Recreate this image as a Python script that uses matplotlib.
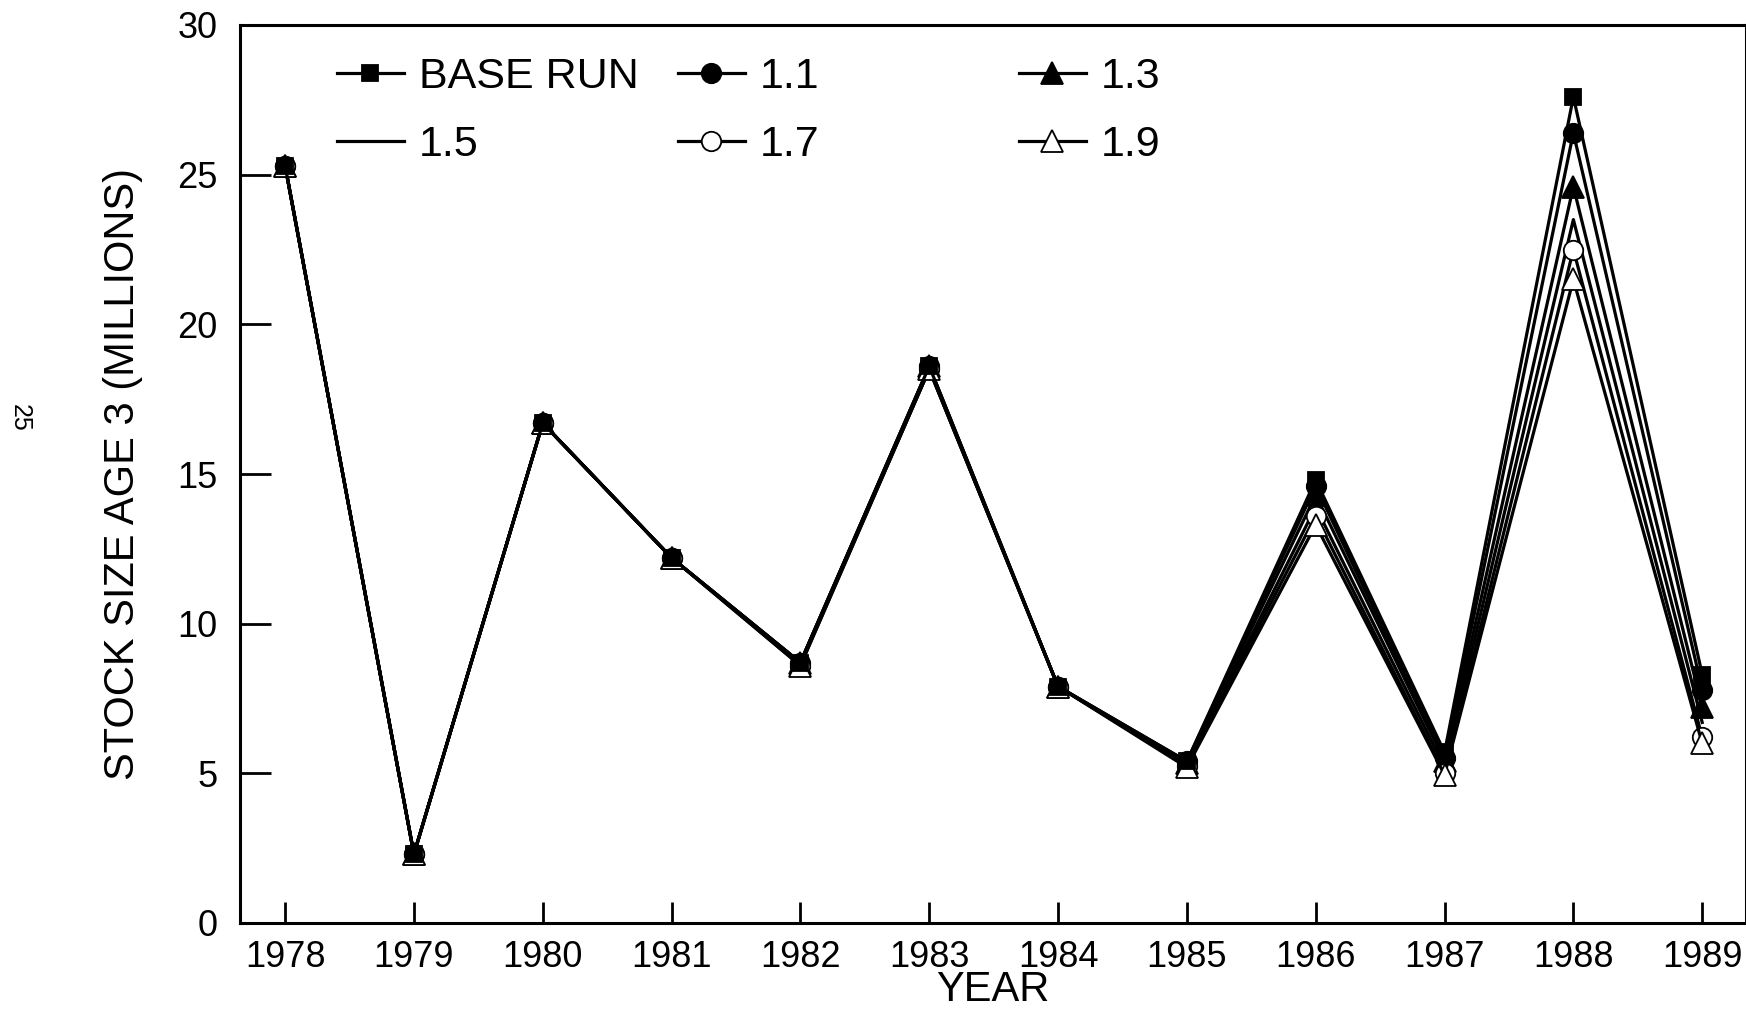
import matplotlib.pyplot as plt
from matplotlib.lines import Line2D

plt.rcParams['font.family'] = ['Liberation Sans', 'DejaVu Sans']

years = [1978, 1979, 1980, 1981, 1982, 1983, 1984, 1985, 1986, 1987, 1988, 1989]

# stock size age 3 (millions) per run
base_run = [25.3, 2.3, 16.7, 12.2, 8.7, 18.6, 7.9, 5.4, 14.8, 5.7, 27.6, 8.3]
run_11 = [25.3, 2.3, 16.7, 12.2, 8.7, 18.6, 7.9, 5.4, 14.6, 5.5, 26.4, 7.8]
run_13 = [25.3, 2.3, 16.7, 12.2, 8.7, 18.6, 7.9, 5.35, 14.3, 5.4, 24.6, 7.2]
run_15 = [25.3, 2.3, 16.7, 12.2, 8.7, 18.5, 7.9, 5.3, 13.9, 5.2, 23.5, 6.7]
run_17 = [25.3, 2.3, 16.7, 12.2, 8.6, 18.5, 7.9, 5.25, 13.6, 5.0, 22.5, 6.2]
run_19 = [25.3, 2.3, 16.7, 12.2, 8.6, 18.5, 7.9, 5.2, 13.3, 4.95, 21.5, 6.0]

labels = ['BASE RUN', '1.1', '1.3', '1.5', '1.7', '1.9']
series = [base_run, run_11, run_13, run_15, run_17, run_19]
markers = ['s', 'o', '^', None, 'o', '^']
msizes = [12, 14, 16, 0, 14, 16]
faces = ['black', 'black', 'black', 'black', 'white', 'white']

fig = plt.figure(figsize=(17.46, 10.10), dpi=100)
ax = fig.add_axes([240 / 1746, 87 / 1010, 1506 / 1746, 898 / 1010])

handles = []
for vals, lab, m, ms, fc in zip(series, labels, markers, msizes, faces):
    h, = ax.plot(years, vals, color='black', lw=2.3, marker=m, markersize=ms,
                 markerfacecolor=fc, markeredgecolor='black', markeredgewidth=1.3,
                 label=lab)
    handles.append(h)

# base run on top so its squares stay visible
handles[0].set_zorder(5)

ax.set_xlim(1977.65, 1989.34)
ax.set_ylim(0, 30)
ax.set_xticks(years)
ax.set_yticks([0, 5, 10, 15, 20, 25, 30])
ax.tick_params(axis='x', direction='in', length=15, width=2, pad=12, labelsize=26)
ax.tick_params(axis='y', direction='in', length=22, width=2, pad=16, labelsize=26)
for s in ax.spines.values():
    s.set_linewidth(2.2)

ax.set_xlabel('YEAR', fontsize=30)
ax.xaxis.label.set_va('center')
ax.xaxis.set_label_coords(0.5, -0.075)
ax.set_ylabel('STOCK SIZE AGE 3 (MILLIONS)', fontsize=30)
ax.yaxis.label.set_va('center')
ax.yaxis.set_label_coords(-0.078, 0.5)

# legend in three columns of two rows
cols = [(337, [0, 3]), (678, [1, 4]), (1019, [2, 5])]
for x0, idx in cols:
    hs = [Line2D([], [], color='black', lw=2.3, marker=markers[i], markersize=msizes[i],
                 markerfacecolor=faces[i], markeredgecolor='black', markeredgewidth=1.3)
          for i in idx]
    fig.legend(hs, [labels[i] for i in idx], loc='upper left',
               bbox_to_anchor=(x0 / 1746, 1 - 57 / 1010), frameon=False,
               fontsize=31, handlelength=1.55, handletextpad=0.35,
               labelspacing=0.65, borderpad=0, borderaxespad=0)

fig.text(20 / 1746, 1 - 418 / 1010, '25', rotation=-90, fontsize=18,
         ha='center', va='center')

fig.savefig('out.png', dpi=100)
